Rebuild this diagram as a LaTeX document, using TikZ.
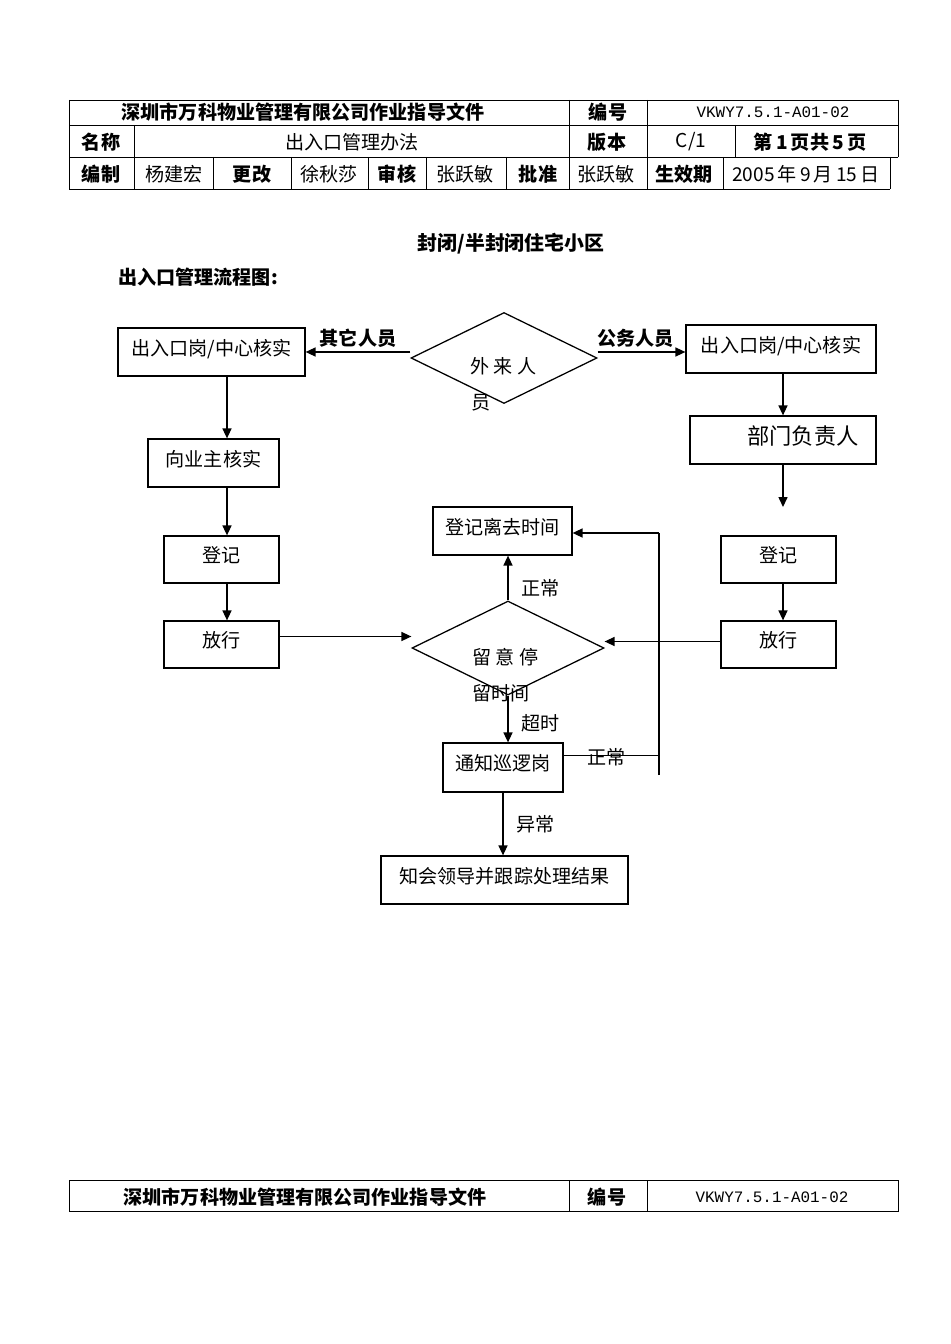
\documentclass[tikz,border=0pt]{standalone}
\usepackage{fontspec}
\setmainfont{Noto Sans CJK SC}
\newfontfamily\codefont{Liberation Mono}
\usetikzlibrary{positioning, arrows.meta, shapes.geometric}

% one unit of the page grid
\newlength\px
\setlength\px{0.0221cm}

\begin{document}
\begin{tikzpicture}[
    x=0.0221cm, y=-0.0221cm,
    font=\fontsize{12}{14}\selectfont,
    dims/.style 2 args={minimum width=#1*\px, minimum height=#2*\px},
    box/.style={rectangle, draw, line width=0.8pt, inner sep=0pt, text depth=0.6em},
    decision/.style={diamond, draw, line width=0.8pt, inner sep=0pt},
    cell/.style={inner sep=0pt},
    tag/.style={inner sep=0pt, font=\fontsize{12}{14}\selectfont\bfseries},
    rule/.style={line width=0.6pt},
    link/.style={line width=0.8pt},
    arrow/.style={-{Triangle[length=2.2mm, width=2mm]}, line width=0.8pt},
]
\fill[white] (0,0) rectangle (950,1344);

% header table
\draw[rule] (69,100) -- (898,100) (69,125) -- (898,125) (69,157) -- (898,157) (69,189) -- (890,189);
\draw[rule] (69,100) -- (69,189) (898,100) -- (898,157) (890,157) -- (890,189);
\draw[rule] (569,100) -- (569,189) (647,100) -- (647,189);
\draw[rule] (134,125) -- (134,189) (735,125) -- (735,157);
\foreach \xv in {213,291,368,426,506,723}
    \draw[rule] (\xv,157) -- (\xv,189);

\node[tag] (company) at (303,112) {深圳市万科物业管理有限公司作业指导文件};
\node[tag] (codeHead) at (608,112) {编号};
\node[cell, font=\codefont\fontsize{10}{12}\selectfont] (codeNo) at (773,112) {VKWY7.5.1-A01-02};

\node[tag] (nameHead) at (101,142) {名称};
\node[cell] (docName) at (352,142) {出入口管理办法};
\node[tag] (verHead) at (607,142) {版本};
\node[cell] (verNo) at (691,142) {C/1};
\node[tag] (pageNo) at (810,142) {第\,1\,页共\,5\,页};

\foreach \cx/\txt [count=\i] in {101/{\bfseries 编制}, 174/杨建宏, 252/{\bfseries 更改},
        329/徐秋莎, 397/{\bfseries 审核}, 465/张跃敏, 538/{\bfseries 批准},
        606/张跃敏, 684/{\bfseries 生效期}, 806/2005\,年\,9\,月\,15\,日}
    \node[cell] (sign\i) at (\cx,174) {\txt};

% headings
\node[tag, font=\fontsize{12.5}{14}\selectfont\bfseries] (area) at (511,244) {封闭/半封闭住宅小区};
\node[tag, anchor=west] (chartTitle) at (118,277) {出入口管理流程图:};

% flow chart
\node[decision, dims={186}{91}] (visitor) at (504,358) {};
\node[cell, anchor=west] (visitorA) at (470,366) {外 来 人};
\node[cell, anchor=west] (visitorB) at (471,403) {员};

\node[box, dims={187}{48}] (gateL) at (211.5,352) {出入口岗/中心核实};
\node[box, dims={131}{48}] (checkOwner) at (213.5,463) {向业主核实\hspace{0.3em}};
\node[box, dims={115}{47}] (regL) at (221.5,559.5) {登记\hspace{0.7em}};
\node[box, dims={115}{47}] (releaseL) at (221.5,644.5) {放行\hspace{0.7em}};

\node[box, dims={190}{48}] (gateR) at (781,349) {出入口岗/中心核实};
\node[box, dims={186}{48}, font=\fontsize{14}{16}\selectfont] (dept) at (783,440) {\hspace{1.8em}部门负责人};
\node[box, dims={115}{47}] (regR) at (778.5,559.5) {登记\hspace{0.7em}};
\node[box, dims={115}{47}] (releaseR) at (778.5,644.5) {放行\hspace{0.7em}};

\node[box, dims={139}{48}] (leaveTime) at (502.5,531) {登记离去时间};
\node[decision, dims={192}{94}] (stay) at (508,648) {};
\node[cell, anchor=west] (stayA) at (472,657) {留 意 停};
\node[cell, anchor=west] (stayB) at (472,693) {留时间};
\node[box, dims={120}{49}] (patrol) at (503,767.5) {通知巡逻岗};
\node[box, dims={247}{48}] (report) at (504.5,880) {知会领导并跟踪处理结果\hspace{0.7em}};

\coordinate (colL) at (227,0);
\coordinate (deptEnd) at (783,507);
\coordinate (loopTop) at (659,533);
\coordinate (loopEnd) at (659,775);

% visitor split
\draw[arrow] (visitor.west |- gateL) -- (gateL.east)
    node[tag, midway, above=4*\px] {其它人员};
\draw[arrow] (visitor.east |- 0,352) -- (gateR.west |- 0,352)
    node[tag, midway, above=4*\px, xshift=-6*\px] {公务人员};

% left column
\draw[arrow] (gateL.south -| colL) -- (checkOwner.north -| colL);
\draw[arrow] (checkOwner.south -| colL) -- (regL.north -| colL);
\draw[arrow] (regL.south -| colL) -- (releaseL.north -| colL);
\draw[arrow] ([yshift=8*\px]releaseL.east) -- ([yshift=8*\px]releaseL.east -| stay.west);

% right column
\draw[arrow] (gateR.south -| dept) -- (dept.north);
\draw[arrow] (dept.south) -- (deptEnd);
\draw[arrow] (regR.south -| dept) -- (releaseR.north -| dept);
\draw[arrow] ([yshift=3*\px]releaseR.west) -- ([yshift=3*\px]releaseR.west -| stay.east);

% stay check
\draw[arrow] (stay.north) -- (stay.north |- leaveTime.south)
    node[cell, pos=0.28, right=13*\px] {正常};
\draw[arrow] (stay.south) -- (stay.south |- patrol.north)
    node[cell, pos=0.6, right=13*\px] {超时};
\draw[link] ([yshift=12*\px]patrol.east) -- ([yshift=12*\px]patrol.east -| loopTop)
    node[cell, pos=0.45, yshift=-2*\px] {正常};
\draw[link] (loopEnd) -- (loopTop);
\draw[arrow] (loopTop) -- (leaveTime.east |- loopTop);
\draw[arrow] (patrol.south) -- (patrol.south |- report.north)
    node[cell, midway, right=13*\px] {异常};

% footer table
\draw[rule] (69,1180) rectangle (898,1211);
\draw[rule] (569,1180) -- (569,1211) (647,1180) -- (647,1211);
\node[tag] (companyFoot) at (305,1197) {深圳市万科物业管理有限公司作业指导文件};
\node[tag] (codeHeadFoot) at (607,1197) {编号};
\node[cell, font=\codefont\fontsize{10}{12}\selectfont] (codeNoFoot) at (772,1197) {VKWY7.5.1-A01-02};
\end{tikzpicture}
\end{document}
